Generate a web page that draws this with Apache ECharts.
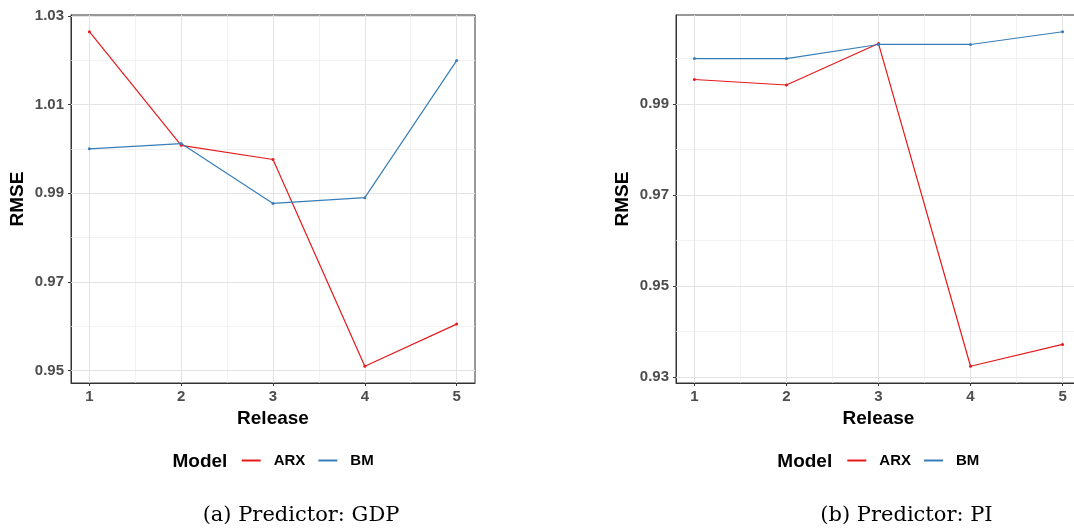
<!DOCTYPE html>
<html><head><meta charset="utf-8">
<script src="https://cdn.jsdelivr.net/npm/echarts@6/dist/echarts.min.js"></script>
<style>html,body{margin:0;padding:0;background:#fff}#c{width:1074px;height:531px}</style>
</head><body><div id="c"></div>
<script>
// ---- data ----
const releases = [1, 2, 3, 4, 5];
const modelNames = ['ARX', 'BM'];
const gdpARX = [1.0264, 1.0008, 0.9976, 0.9510, 0.9605];
const gdpBM  = [1.0000, 1.0012, 0.9877, 0.9890, 1.0199];
const piARX  = [0.9954, 0.9942, 1.0033, 0.9324, 0.9372];
const piBM   = [1.0000, 1.0000, 1.0031, 1.0031, 1.0059];
const xTicks = [1, 2, 3, 4, 5];
const xMinor = [1.5, 2.5, 3.5, 4.5];
const gdpYTicks = [0.95, 0.97, 0.99, 1.01, 1.03];
const gdpYMinor = [0.96, 0.98, 1.00, 1.02];
const piYTicks = [0.93, 0.95, 0.97, 0.99];
const piYMinor = [0.94, 0.96, 0.98, 1.00];
const captions = ['(a) Predictor: GDP', '(b) Predictor: PI'];
const axisTitles = { x: 'Release', y: 'RMSE', legend: 'Model' };

// ---- styling ----
const RED = '#E41A1C', BLUE = '#377EB8';
const SANS = '"Liberation Sans", Arial, Helvetica, sans-serif';
const SERIF = '"DejaVu Serif", "Liberation Serif", serif';

function expand(arrs) {
  const all = [].concat(...arrs);
  const lo = Math.min(...all), hi = Math.max(...all);
  const p = (hi - lo) * 0.05;
  return [lo - p, hi + p];
}
const xr = [Math.min(...releases), Math.max(...releases)];
const xPad = (xr[1] - xr[0]) * 0.05;
const gdpRange = expand([gdpARX, gdpBM]);
const piRange = expand([piARX, piBM]);

const labelStyle = { color: '#4d4d4d', fontWeight: 'bold', fontSize: 15, fontFamily: SANS };
const nameStyle = { color: '#000', fontWeight: 'bold', fontSize: 19, fontFamily: SANS };

function xAxisCfg(gi) {
  return {
    type: 'value', gridIndex: gi, min: xr[0] - xPad, max: xr[1] + xPad,
    name: axisTitles.x, nameLocation: 'middle', nameGap: 20, nameTextStyle: nameStyle,
    axisLine: { show: true, lineStyle: { color: '#333', width: 1 } },
    axisTick: { show: true, length: 3, customValues: xTicks, lineStyle: { color: '#333', width: 1 } },
    axisLabel: Object.assign({ customValues: xTicks, margin: 6, formatter: v => String(v) }, labelStyle),
    splitLine: { show: false }
  };
}
function yAxisCfg(gi, range, ticks) {
  return {
    type: 'value', gridIndex: gi, min: range[0], max: range[1],
    name: axisTitles.y, nameLocation: 'middle', nameGap: 44, nameTextStyle: nameStyle,
    axisLine: { show: true, lineStyle: { color: '#333', width: 1 } },
    axisTick: { show: true, length: 3, customValues: ticks, lineStyle: { color: '#333', width: 1 } },
    axisLabel: Object.assign({ customValues: ticks, margin: 7, formatter: v => v.toFixed(2) }, labelStyle),
    splitLine: { show: false }
  };
}
function gridLines(gi, yTicks, yMinor) {
  const major = { color: '#e3e3e3', width: 1, type: 'solid' };
  const minor = { color: '#ececec', width: 0.7, type: 'solid' };
  const d = [];
  yMinor.forEach(v => d.push({ yAxis: v, lineStyle: minor }));
  xMinor.forEach(v => d.push({ xAxis: v, lineStyle: minor }));
  yTicks.forEach(v => d.push({ yAxis: v, lineStyle: major }));
  xTicks.forEach(v => d.push({ xAxis: v, lineStyle: major }));
  return {
    type: 'line', xAxisIndex: gi, yAxisIndex: gi, data: [], z: 1, silent: true,
    markLine: { z: 1, silent: true, symbol: ['none', 'none'], label: { show: false }, animation: false, data: d }
  };
}
function lineSeries(gi, name, vals, color) {
  return {
    type: 'line', name: name, xAxisIndex: gi, yAxisIndex: gi, z: 10,
    data: releases.map((x, i) => [x, vals[i]]),
    color: color, lineStyle: { color: color, width: 1.2 },
    itemStyle: { color: color, borderWidth: 0, borderColor: color },
    symbol: 'circle', symbolSize: 3, showSymbol: true, silent: true, animation: false
  };
}
function legendCfg(left) {
  return {
    left: left, top: 453, padding: 0, itemWidth: 19, itemHeight: 2, itemGap: 13,
    icon: 'rect', data: modelNames, selectedMode: false, orient: 'horizontal',
    itemStyle: { borderWidth: 0 },
    textStyle: { fontSize: 15, fontWeight: 'bold', color: '#000', fontFamily: SANS, padding: [0, 0, 0, 8] }
  };
}
function text(x, y, str, font, align) {
  return { type: 'text', x: x, y: y, silent: true,
    style: { text: str, font: font, fill: '#000', align: align, textAlign: align, verticalAlign: 'middle', textVerticalAlign: 'middle' } };
}

const chart = echarts.init(document.getElementById('c'), null, { renderer: 'canvas' });
chart.setOption({
  backgroundColor: '#fff',
  animation: false,
  grid: [
    { left: 71, top: 15, width: 404, height: 368, show: true, borderColor: '#333', borderWidth: 1, backgroundColor: 'transparent', outerBoundsMode: 'none' },
    { left: 676, top: 15, width: 405, height: 368, show: true, borderColor: '#333', borderWidth: 1, backgroundColor: 'transparent', outerBoundsMode: 'none' }
  ],
  xAxis: [xAxisCfg(0), xAxisCfg(1)],
  yAxis: [yAxisCfg(0, gdpRange, gdpYTicks), yAxisCfg(1, piRange, piYTicks)],
  legend: [legendCfg(241.7), legendCfg(847.3)],
  graphic: [
    text(172.5, 462, axisTitles.legend, 'bold 19px ' + SANS, 'left'),
    text(777.3, 462, axisTitles.legend, 'bold 19px ' + SANS, 'left'),
    text(301, 516, captions[0], '21px ' + SERIF, 'center'),
    text(906.5, 516, captions[1], '21px ' + SERIF, 'center')
  ],
  series: [
    gridLines(0, gdpYTicks, gdpYMinor),
    gridLines(1, piYTicks, piYMinor),
    lineSeries(0, modelNames[0], gdpARX, RED),
    lineSeries(0, modelNames[1], gdpBM, BLUE),
    lineSeries(1, modelNames[0], piARX, RED),
    lineSeries(1, modelNames[1], piBM, BLUE)
  ]
});
</script>
</body></html>
